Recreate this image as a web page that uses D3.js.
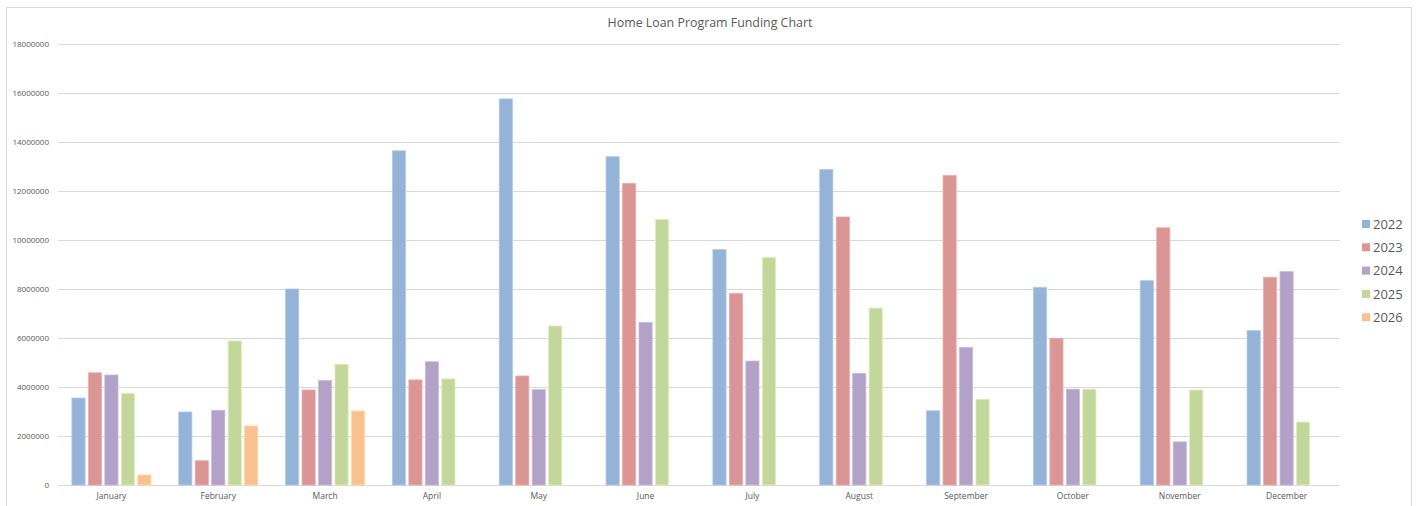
<!DOCTYPE html>
<html>
<head>
<meta charset="utf-8">
<script src="https://cdn.jsdelivr.net/npm/d3@7"></script>
<style>
  body { margin: 0; background: #fff; }
  text { font-family: "Open Sans", "Liberation Sans", sans-serif; fill: #595959; }
</style>
</head>
<body>
<div id="plot"></div>
<script>
// Months along the x axis.
var months = ["January", "February", "March", "April", "May", "June",
	"July", "August", "September", "October", "November", "December"];

// One array per year (null = no value for that month).
var y2022 = [3550000, 2980000, 8000000, 13640000, 15760000, 13400000, 9610000, 12880000, 3030000, 8070000, 8340000, 6300000];
var y2023 = [4580000, 990000, 3880000, 4290000, 4450000, 12310000, 7820000, 10940000, 12640000, 5990000, 10500000, 8480000];
var y2024 = [4490000, 3050000, 4270000, 5030000, 3890000, 6640000, 5060000, 4560000, 5620000, 3910000, 1760000, 8710000];
var y2025 = [3740000, 5880000, 4930000, 4330000, 6490000, 10840000, 9290000, 7220000, 3500000, 3910000, 3880000, 2570000];
var y2026 = [410000, 2410000, 3020000, null, null, null, null, null, null, null, null, null];

var years = ["2022", "2023", "2024", "2025", "2026"];
var yTicks = [0, 2000000, 4000000, 6000000, 8000000, 10000000, 12000000, 14000000, 16000000, 18000000];

var series = {"2022": y2022, "2023": y2023, "2024": y2024, "2025": y2025, "2026": y2026};

var W = 1417, H = 506;
var plot = {left: 58, right: 1340, top: 44, bottom: 485};

var svg = d3.select("#plot")
	.append("svg")
	.attr("width", W)
	.attr("height", H);

// Chart frame
svg.append("rect")
	.attr("x", 6.5).attr("y", 7.5)
	.attr("width", 1405).attr("height", 505)
	.attr("fill", "#fff")
	.attr("stroke", "#d9d9d9");

// Title
svg.append("text")
	.attr("x", 710)
	.attr("y", 27)
	.attr("text-anchor", "middle")
	.style("font-size", "12.4px")
	.text("Home Loan Program Funding Chart");

// Scales
var x0 = d3.scaleBand()
	.domain(months)
	.range([plot.left, plot.right])
	.paddingInner(0.26)
	.paddingOuter(0.13);

var x1 = d3.scaleBand()
	.domain(years)
	.range([0, x0.bandwidth()])
	.paddingInner(0.2);

var y = d3.scaleLinear()
	.domain([0, 18000000])
	.range([plot.bottom, plot.top]);

// Gridlines
svg.append("g")
	.selectAll("line")
	.data(yTicks)
	.enter()
	.append("line")
		.attr("x1", plot.left)
		.attr("x2", plot.right)
		.attr("y1", function(d){ return Math.round(y(d)) + 0.5; })
		.attr("y2", function(d){ return Math.round(y(d)) + 0.5; })
		.attr("stroke", "#d9d9d9")
		.attr("stroke-width", 1);

// Y axis labels
var yAxis = svg.append("g")
	.attr("transform", "translate(" + (plot.left - 9) + ",0)")
	.call(d3.axisLeft(y).tickValues(yTicks).tickSize(0).tickFormat(d3.format("d")));
yAxis.select(".domain").remove();
yAxis.selectAll("text")
	.attr("x", 0)
	.style("font-size", "8px")
	.style("fill", "#595959");

// X axis labels
var xAxis = svg.append("g")
	.attr("transform", "translate(0," + plot.bottom + ")")
	.call(d3.axisBottom(x0).tickSize(0).tickSizeOuter(0));
xAxis.select(".domain").remove();
xAxis.selectAll("text")
	.attr("y", 8)
	.style("font-size", "8.5px")
	.style("fill", "#595959");

// Colours per year
var color = d3.scaleOrdinal()
	.domain(years)
	.range(["#95b3d7", "#d99694", "#b3a2c7", "#c3d69b", "#fac090"]);

// Bars
svg.append("g")
	.selectAll("g")
	.data(months)
	.enter()
	.append("g")
	.attr("transform", function(d){ return "translate(" + x0(d) + ",0)"; })
	.selectAll("rect")
	.data(function(m, i){
		return years.map(function(k){ return {key: k, value: series[k][i]}; })
			.filter(function(d){ return d.value != null; });
	})
	.enter()
	.append("rect")
		.attr("x", function(d){ return x1(d.key); })
		.attr("y", function(d){ return y(d.value); })
		.attr("width", x1.bandwidth())
		.attr("height", function(d){ return y(0) - y(d.value); })
		.attr("fill", function(d){ return color(d.key); })
		.attr("stroke", function(d){ return d3.color(color(d.key)).brighter(0.35); })
		.attr("stroke-width", 0.8);

// Legend
var legend = svg.append("g")
	.selectAll("g")
	.data(years)
	.enter()
	.append("g")
	.attr("transform", function(d, i){ return "translate(1362," + (224 + i * 23.3) + ")"; });

legend.append("rect")
	.attr("x", 0)
	.attr("y", -4)
	.attr("width", 8)
	.attr("height", 8)
	.attr("fill", function(d){ return color(d); });

legend.append("text")
	.attr("x", 11)
	.attr("y", 0)
	.attr("dy", "0.36em")
	.style("font-size", "13px")
	.text(function(d){ return d; });
</script>
</body>
</html>
